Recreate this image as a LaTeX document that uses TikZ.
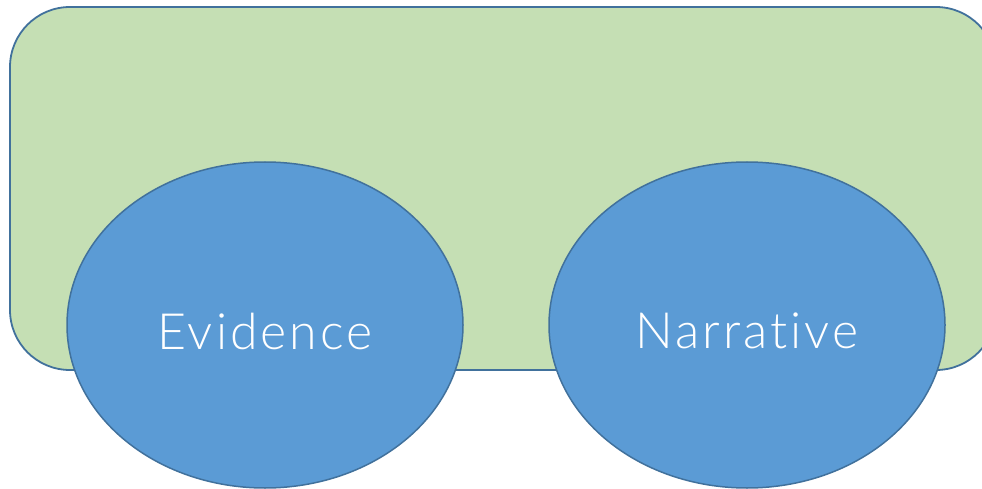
\documentclass[tikz,border=0pt]{standalone}
\usepackage{fontspec}
\setmainfont{Lato}[UprightFont=* Light,Ligatures=NoCommon]
\newfontfamily\blobfont{Lato}[UprightFont=* Light,Ligatures=NoCommon,LetterSpace=6]
\usetikzlibrary{shapes.geometric}
\definecolor{boxgreen}{HTML}{C5DFB4}
\definecolor{edgeblue}{HTML}{41719C}
\definecolor{ellblue}{HTML}{5B9BD5}
\begin{document}
\begin{tikzpicture}[x=1pt,y=-1pt,
  panel/.style={draw=edgeblue,fill=boxgreen,line width=1.8pt,rounded corners=60pt},
  blob/.style={draw=edgeblue,fill=ellblue,line width=1.5pt,ellipse,minimum width=396pt,minimum height=326pt,inner sep=0pt,
    text=white,font=\blobfont\fontsize{50}{52}\selectfont}]
\useasboundingbox (0,0) rectangle (982,489);
\clip (0,0) rectangle (982,489);
\draw[panel] (10,7) rectangle (996,370);
\node[blob] (ev) at (265,325) {\raisebox{-6pt}[\height][\depth]{Evidence}};
\node[blob] (na) at (747,325) {\raisebox{-6pt}[\height][\depth]{Narrative}};
\end{tikzpicture}
\end{document}
